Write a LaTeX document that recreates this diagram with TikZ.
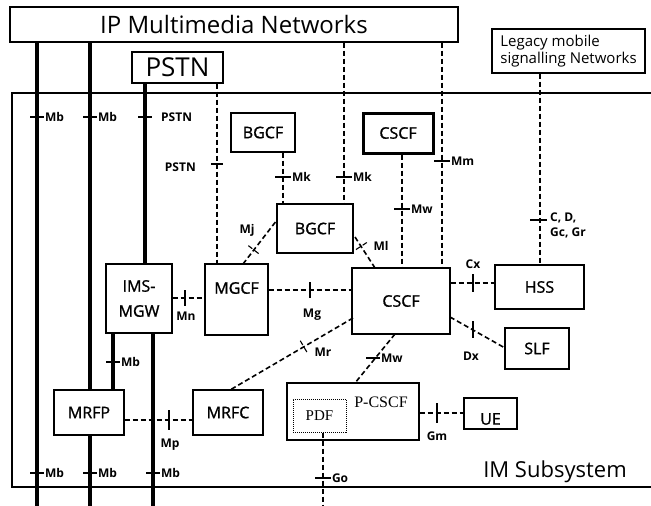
\documentclass[tikz,border=0pt]{standalone}
\usepackage{fontspec}
\setmainfont{Open Sans}
\newfontfamily\serifff{Liberation Serif}
\newfontfamily\medff[FakeBold=1.2]{Open Sans}
\begin{document}
\begin{tikzpicture}[x=1pt,y=-1pt,
  box/.style={draw, line width=1.4pt, fill=white, inner sep=0pt, font=\medff\fontsize{16}{18}\selectfont},
  dsh/.style={line width=1.6pt, dash pattern=on 5pt off 3pt},
  thk/.style={line width=4.2pt},
  tk/.style={line width=1.1pt},
  tick/.style={sloped, draw, line width=1.1pt, minimum width=0pt, minimum height=14pt, inner sep=0pt, outer sep=0pt},
  lbl/.style={font=\bfseries\fontsize{12}{13}\selectfont, inner sep=1pt},
  btxt/.style={font=\medff\fontsize{16}{18}\selectfont, inner sep=0pt}]
\useasboundingbox (0,0) rectangle (651,506);
\fill[white] (0,0) rectangle (651,506);

% IM subsystem frame
\coordinate (imtl) at (12,93);
\coordinate (imtr) at (651,93);
\coordinate (imbl) at (12,487);
\coordinate (imbr) at (651,487);
\draw[line width=1.5pt] (imtr) -- (imtl) -- (imbl) -- (imbr);
\node[font=\fontsize{22}{24}\selectfont, anchor=base] (ims) at (555,477) {IM Subsystem};

% top boxes
\node[box, minimum width=448pt, minimum height=35pt, font=\fontsize{24}{26}\selectfont] (ip) at (234,24.5) {IP Multimedia Networks};
\node[box, minimum width=91pt, minimum height=31pt, font=\fontsize{26}{28}\selectfont] (pstn) at (177.5,67.5) {PSTN};
\node[box, minimum width=153pt, minimum height=44pt, align=left, font=\fontsize{15}{17}\selectfont] (leg) at (568.5,51) {Legacy mobile\\signalling Networks};

% thick bearer lines
\coordinate (b1) at (37,506);
\coordinate (b2) at (90,506);
\coordinate (b4) at (153,506);
\coordinate (b3t) at (145,83);
\draw[thk] (ip.south -| b1) -- (b1);
\draw[thk] (ip.south -| b2) -- (b2);

% boxes
\node[box, minimum width=64pt, minimum height=39pt] (bgcf1) at (263,132.5) {BGCF};
\node[box, line width=3pt, minimum width=70pt, minimum height=40pt] (cscft) at (398,133) {CSCF};
\node[box, minimum width=76pt, minimum height=49pt] (bgcf2) at (315,228.5) {BGCF};
\node[box, minimum width=63pt, minimum height=71pt] (mgcf) at (236.5,299.5) {};
\node[btxt] (mgcft) at (236.5,288) {MGCF};
\node[box, minimum width=66pt, minimum height=69pt, align=center, font=\medff\fontsize{16}{25}\selectfont] (mgw) at (139,298.5) {IMS-\\MGW};
\node[box, minimum width=98pt, minimum height=66pt] (cscf) at (401,301) {CSCF};
\node[box, minimum width=89pt, minimum height=44pt] (hss) at (539.5,287) {HSS};
\node[box, minimum width=64pt, minimum height=41pt] (slf) at (537,348.5) {SLF};
\node[box, minimum width=70pt, minimum height=45pt] (mrfp) at (89,412.5) {MRFP};
\node[box, minimum width=70pt, minimum height=45pt] (mrfc) at (228,412.5) {MRFC};
\node[box, minimum width=132pt, minimum height=57pt] (pcscf) at (353,411.5) {};
\node[btxt, font=\serifff\fontsize{16}{18}\selectfont] (pcscft) at (381,402) {P-CSCF};
\node[draw, densely dotted, line width=1pt, fill=white, minimum width=53pt, minimum height=33pt, inner sep=0pt, font=\serifff\fontsize{15}{17}\selectfont] (pdf) at (319.5,415.5) {PDF};
\node[box, minimum width=53pt, minimum height=31pt] (ue) at (490.5,413.5) {};
\node[btxt] (uet) at (490.5,419) {UE};

% thick lines through MGW
\draw[thk] (pstn.south -| b3t) -- (mgw.north -| b3t);
\draw[thk] (mgw.south -| b4) -- (b4);
\coordinate (b5) at (113,0);
\draw[thk] (mgw.south -| b5) -- (mrfp.north -| b5);
% redraw MRFP on top of the bearer line
\node[box, minimum width=70pt, minimum height=45pt] at (89,412.5) {MRFP};

% Mb ticks
\draw[tk] (30,117) -- (44,117) node[right, lbl, inner sep=0.5pt] {Mb};
\draw[tk] (83,117) -- (97,117) node[right, lbl, inner sep=0.5pt] {Mb};
\draw[tk] (138,117) -- (152,117);
\node[lbl, anchor=west] (pstnl1) at (160,117) {PSTN};
\draw[tk] (30,473) -- (44,473) node[right, lbl, inner sep=0.5pt] {Mb};
\draw[tk] (83,473) -- (97,473) node[right, lbl, inner sep=0.5pt] {Mb};
\draw[tk] (146,473) -- (160,473) node[right, lbl, inner sep=0.5pt] {Mb};
\draw[tk] (106,362) -- (120,362) node[right, lbl, inner sep=0.5pt] {Mb};

% vertical dashed connectors
\coordinate (d1) at (217,0);
\draw[dsh] (pstn.south -| d1) -- (mgcf.north -| d1);
\draw[tk] (211,164) -- (223,164);
\node[lbl, anchor=east] (pstnl2) at (197,167) {PSTN};

\coordinate (d2) at (283,0);
\draw[dsh] (bgcf1.south -| d2) -- (bgcf2.north -| d2);
\draw[tk] (275,177) -- (291,177) node[right, lbl, inner sep=0.5pt] {Mk};

\coordinate (d3) at (344,0);
\draw[dsh] (ip.south -| d3) -- (bgcf2.north -| d3);
\draw[tk] (336,177) -- (352,177) node[right, lbl, inner sep=0.5pt] {Mk};

\coordinate (d4) at (402,0);
\draw[dsh] (cscft.south -| d4) -- (cscf.north -| d4);
\draw[tk] (394,209) -- (410,209) node[right, lbl, inner sep=0.5pt] {Mw};

\coordinate (d5) at (442,0);
\draw[dsh] (ip.south -| d5) -- (cscf.north -| d5);
\draw[tk] (434,161) -- (450,161) node[right, lbl, inner sep=0.5pt] {Mm};

\coordinate (d6) at (540,0);
\draw[dsh] (leg.south -| d6) -- (hss.north -| d6);
\draw[tk] (530,220) -- (547,220);
\node[lbl, anchor=north west, align=left, font=\bfseries\fontsize{12}{15}\selectfont] (cdl) at (549,212) {C, D,\\Gc, Gr};

\coordinate (d7) at (323,506);
\draw[dsh] (pdf.south -| d7) -- (d7);
\draw[tk] (315,478) -- (331,478) node[right, lbl, inner sep=0.5pt] {Go};

% horizontal dashed connectors
\coordinate (hmn) at (0,298);
\draw[dsh] (mgw.east |- hmn) -- (mgcf.west |- hmn);
\draw[tk] (185,290) -- (185,306);
\node[lbl] (mnl) at (186,316) {Mn};

\coordinate (hmg) at (0,290);
\draw[dsh] (mgcf.east |- hmg) -- (cscf.west |- hmg);
\draw[tk] (310,282) -- (310,298);
\node[lbl] (mgl) at (312,315) {Mg};

\coordinate (hcx) at (0,283);
\draw[dsh] (cscf.east |- hcx) -- (hss.west |- hcx);
\draw[tk] (473,274) -- (473,292);
\node[lbl] (cxl) at (473,264) {Cx};

\coordinate (hmp) at (0,420);
\draw[dsh] (mrfp.east |- hmp) -- (mrfc.west |- hmp);
\draw[tk] (169,410) -- (169,430);
\node[lbl] (mpl) at (170,445) {Mp};

\coordinate (hgm) at (0,413);
\draw[dsh] (pcscf.east |- hgm) -- (ue.west |- hgm);
\draw[tk] (437,403) -- (437,423);
\node[lbl] (gml) at (437,436) {Gm};

% diagonal connectors
\coordinate (mj1) at (243,264);
\coordinate (mj2) at (277,220);
\draw[dsh] (mj1) -- (mj2) node[pos=0.32, tick] {};
\node[lbl] (mjl) at (247,230) {Mj};

\coordinate (ml1) at (355,237);
\coordinate (ml2) at (375,268);
\draw[dsh] (ml1) -- (ml2) node[pos=0.3, tick] {};
\node[lbl] (mll) at (381,246) {Ml};

\coordinate (mr1) at (353,318);
\coordinate (mr2) at (230,390);
\draw[dsh] (mr1) -- (mr2) node[pos=0.4, tick] {};
\node[lbl] (mrl) at (323,352) {Mr};

\coordinate (mw1) at (395,334);
\coordinate (mw2) at (355,383);
\draw[dsh] (mw1) -- (mw2);
\draw[tk] (366,358) -- (380,358) node[right, lbl, inner sep=0.5pt] {Mw};

\coordinate (dx1) at (450,317);
\coordinate (dx2) at (505,348);
\draw[dsh] (dx1) -- (dx2);
\draw[tk] (473,321) -- (473,338);
\node[lbl] (dxl) at (471,356) {Dx};
\end{tikzpicture}
\end{document}
